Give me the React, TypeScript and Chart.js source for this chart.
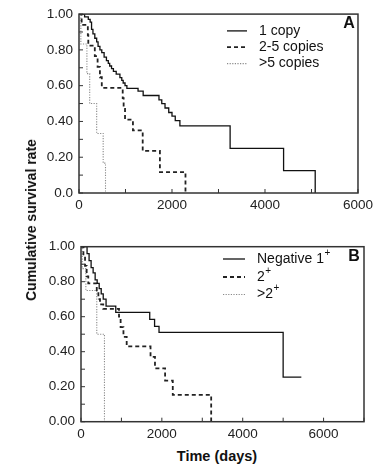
import React, { useEffect, useRef } from 'react';
import { Chart, registerables } from 'chart.js';

Chart.register(...registerables);

// ---------- Panel A: copy number ----------
const seriesNamesA = ['1 copy', '2-5 copies', '>5 copies'];
const oneCopyDays = [0, 120, 200, 240, 270, 300, 340, 380, 410, 450, 490, 540, 590, 630, 660, 700, 740, 800, 880, 920, 950, 990, 1030, 1270, 1380, 1720, 1780, 1850, 1930, 2000, 2070, 2170, 3250, 4400, 5080];
const oneCopySurv = [1.0, 0.985, 0.97, 0.955, 0.915, 0.89, 0.865, 0.845, 0.82, 0.8, 0.785, 0.76, 0.74, 0.725, 0.71, 0.695, 0.68, 0.665, 0.645, 0.63, 0.615, 0.6, 0.585, 0.57, 0.545, 0.52, 0.5, 0.475, 0.45, 0.43, 0.405, 0.375, 0.25, 0.125, 0];
const twoFiveDays = [0, 57, 190, 200, 340, 400, 450, 490, 940, 960, 990, 1160, 1370, 1740, 2290];
const twoFiveSurv = [1.0, 0.94, 0.882, 0.824, 0.765, 0.705, 0.647, 0.588, 0.53, 0.47, 0.41, 0.35, 0.235, 0.117, 0];
const overFiveDays = [0, 40, 170, 230, 380, 520, 570];
const overFiveSurv = [1.0, 0.833, 0.667, 0.5, 0.333, 0.167, 0];
const xTickLabelsA = ['0', '2000', '4000', '6000'];
const yTickLabelsA = ['0.0', '0.20', '0.40', '0.60', '0.80', '1.00'];

// ---------- Panel B: staining ----------
const seriesNamesB = ['Negative 1\u207A', '2\u207A', '>2\u207A'];
const negDays = [0, 150, 200, 250, 300, 350, 400, 450, 500, 550, 620, 860, 1700, 1820, 1930, 5000, 5450];
const negSurv = [1.0, 0.96, 0.92, 0.88, 0.85, 0.81, 0.79, 0.76, 0.73, 0.7, 0.66, 0.625, 0.585, 0.545, 0.51, 0.255, 0.255];
const twoPlusDays = [0, 60, 100, 140, 180, 390, 430, 470, 550, 940, 980, 1050, 1130, 1720, 1830, 2080, 2270, 3220];
const twoPlusSurv = [1.0, 0.95, 0.89, 0.83, 0.79, 0.74, 0.7, 0.67, 0.645, 0.6, 0.54, 0.485, 0.43, 0.37, 0.305, 0.235, 0.153, 0];
const overTwoDays = [0, 30, 120, 390, 580];
const overTwoSurv = [1.0, 0.875, 0.75, 0.5, 0];
const xTickLabelsB = ['0', '2000', '4000', '6000'];
const yTickLabelsB = ['0.00', '0.20', '0.40', '0.60', '0.80', '1.00'];
const yTickValues = [0, 0.2, 0.4, 0.6, 0.8, 1.0];

const FONT = '"Liberation Sans", Arial, Helvetica, sans-serif';

const toPts = (xs: number[], ys: number[]) => xs.map((x, i) => ({ x, y: ys[i] }));

const lineStyles = [
  { borderColor: '#111', borderWidth: 1.3, borderDash: [] as number[] },
  { borderColor: '#222', borderWidth: 1.8, borderDash: [4, 3] },
  { borderColor: '#8a8a8a', borderWidth: 1.1, borderDash: [1.2, 1.4] },
];

const decor = {
  id: 'decor',
  afterDraw(chart: any, _args: any, opts: any) {
    const { ctx, chartArea: a, scales } = chart;
    const xs = scales.x, ys = scales.y;
    ctx.save();
    ctx.strokeStyle = '#333';
    ctx.lineWidth = 1;
    ctx.setLineDash([]);
    xs.ticks.forEach((t: any) => {
      const px = xs.getPixelForValue(t.value);
      ctx.beginPath();
      ctx.moveTo(px, a.bottom);
      ctx.lineTo(px, a.bottom - 4);
      ctx.stroke();
    });
    ys.ticks.forEach((t: any) => {
      const py = ys.getPixelForValue(t.value);
      ctx.beginPath();
      ctx.moveTo(a.left, py);
      ctx.lineTo(a.left + 4, py);
      ctx.stroke();
    });
    ctx.lineWidth = 1.5;
    ctx.strokeRect(a.left, a.top, a.right - a.left, a.bottom - a.top);

    ctx.fillStyle = '#111';
    ctx.font = `bold 16px ${FONT}`;
    ctx.textAlign = 'center';
    ctx.textBaseline = 'middle';
    ctx.fillText(opts.letter, a.right - opts.letterDx, a.top + opts.letterDy);

    chart.data.datasets.forEach((ds: any, i: number) => {
      const yy = a.top + opts.rows[i];
      ctx.beginPath();
      ctx.setLineDash(ds.borderDash || []);
      ctx.strokeStyle = ds.borderColor;
      ctx.lineWidth = ds.borderWidth;
      ctx.moveTo(a.left + opts.lineX0, yy);
      ctx.lineTo(a.left + opts.lineX1, yy);
      ctx.stroke();
      ctx.setLineDash([]);
      let label: string = ds.label;
      const sup = label.endsWith('\u207A');
      if (sup) label = label.slice(0, -1);
      ctx.fillStyle = '#111';
      ctx.textAlign = 'left';
      ctx.textBaseline = 'middle';
      ctx.font = `14px ${FONT}`;
      const tx = a.left + opts.textX;
      ctx.fillText(label, tx, yy);
      if (sup) {
        const w = ctx.measureText(label).width;
        ctx.font = `10px ${FONT}`;
        ctx.fillText('+', tx + w + 0.5, yy - 6);
      }
    });
    ctx.restore();
  },
};

type PanelProps = {
  width: number;
  height: number;
  series: { name: string; xs: number[]; ys: number[] }[];
  xMax: number;
  xLabels: string[];
  yLabels: string[];
  padTop: number;
  padRight: number;
  yWidth: number;
  xHeight: number;
  decorOpts: any;
};

function Panel(p: PanelProps) {
  const ref = useRef<HTMLCanvasElement | null>(null);
  useEffect(() => {
    if (!ref.current) return;
    const chart = new Chart(ref.current, {
      type: 'line',
      data: {
        datasets: p.series.map((s, i) => ({
          label: s.name,
          data: toPts(s.xs, s.ys),
          stepped: 'before' as const,
          pointRadius: 0,
          fill: false,
          tension: 0,
          ...lineStyles[i],
        })),
      },
      options: {
        responsive: false,
        animation: false,
        devicePixelRatio: 1,
        layout: { padding: { top: p.padTop, right: p.padRight, left: 0, bottom: 0 } },
        plugins: {
          legend: { display: false },
          tooltip: { enabled: false },
          decor: p.decorOpts,
        } as any,
        scales: {
          x: {
            type: 'linear',
            min: 0,
            max: p.xMax,
            grid: { display: false, drawTicks: false },
            border: { display: false },
            afterFit: (s: any) => { s.height = p.xHeight; },
            ticks: {
              stepSize: 1000,
              autoSkip: false,
              maxRotation: 0,
              padding: 4,
              color: '#222',
              font: { family: FONT, size: 13.5 },
              callback: (v: any) => {
                const s = String(Math.round(Number(v)));
                return p.xLabels.includes(s) ? s : '';
              },
            },
          },
          y: {
            type: 'linear',
            min: 0,
            max: 1,
            grid: { display: false, drawTicks: false },
            border: { display: false },
            afterFit: (s: any) => { s.width = p.yWidth; },
            ticks: {
              stepSize: 0.1,
              autoSkip: false,
              padding: 6,
              color: '#222',
              font: { family: FONT, size: 13.5 },
              callback: (v: any) => {
                const idx = yTickValues.findIndex((t) => Math.abs(t - Number(v)) < 1e-6);
                return idx >= 0 ? p.yLabels[idx] : '';
              },
            },
          },
        },
      },
      plugins: [decor],
    });
    return () => chart.destroy();
  }, []);
  return <canvas ref={ref} width={p.width} height={p.height} style={{ display: 'block' }} />;
}

export default function App() {
  return (
    <div style={{ position: 'absolute', left: 0, top: 0, width: 377, height: 464, background: '#fff', overflow: 'hidden' }}>
      <div style={{ position: 'absolute', left: 0, top: 0 }}>
        <Panel
          width={377}
          height={220}
          series={[
            { name: seriesNamesA[0], xs: oneCopyDays, ys: oneCopySurv },
            { name: seriesNamesA[1], xs: twoFiveDays, ys: twoFiveSurv },
            { name: seriesNamesA[2], xs: overFiveDays, ys: overFiveSurv },
          ]}
          xMax={6000}
          xLabels={xTickLabelsA}
          yLabels={yTickLabelsA}
          padTop={12.5}
          padRight={18}
          yWidth={79}
          xHeight={27}
          decorOpts={{ letter: 'A', letterDx: 9, letterDy: 9, rows: [16.8, 33, 49.5], lineX0: 148, lineX1: 168, textX: 180 }}
        />
      </div>
      <div style={{ position: 'absolute', left: 0, top: 228 }}>
        <Panel
          width={377}
          height={216}
          series={[
            { name: seriesNamesB[0], xs: negDays, ys: negSurv },
            { name: seriesNamesB[1], xs: twoPlusDays, ys: twoPlusSurv },
            { name: seriesNamesB[2], xs: overTwoDays, ys: overTwoSurv },
          ]}
          xMax={7000}
          xLabels={xTickLabelsB}
          yLabels={yTickLabelsB}
          padTop={18.7}
          padRight={13}
          yWidth={81}
          xHeight={22.3}
          decorOpts={{ letter: 'B', letterDx: 10, letterDy: 9.5, rows: [12.3, 30.3, 47.8], lineX0: 142, lineX1: 164, textX: 176 }}
        />
      </div>
      <div
        style={{
          position: 'absolute',
          left: 31,
          top: 220,
          transform: 'translate(-50%, -50%) rotate(-90deg)',
          whiteSpace: 'nowrap',
          font: `bold 14px ${FONT}`,
          color: '#111',
        }}
      >
        Cumulative survival rate
      </div>
      <div
        style={{
          position: 'absolute',
          left: 217,
          top: 456,
          transform: 'translate(-50%, -50%)',
          whiteSpace: 'nowrap',
          font: `bold 14.5px ${FONT}`,
          color: '#111',
        }}
      >
        Time (days)
      </div>
    </div>
  );
}
